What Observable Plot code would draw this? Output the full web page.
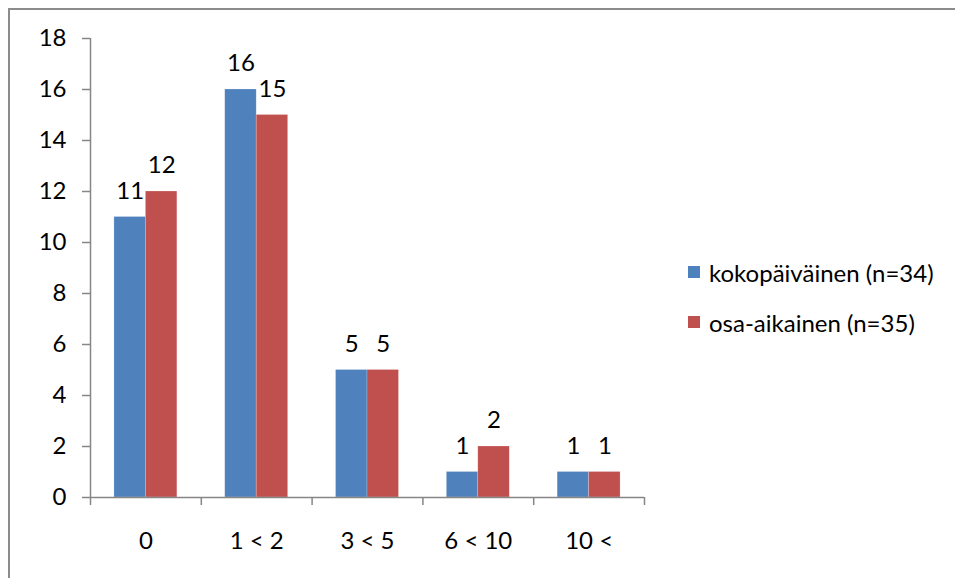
<!DOCTYPE html>
<html>
<head>
<meta charset="utf-8">
<script src="https://cdn.jsdelivr.net/npm/d3@7"></script>
<script src="https://cdn.jsdelivr.net/npm/@observablehq/plot@0.6"></script>
<style>
  html, body { margin: 0; padding: 0; background: #fff; }
  #wrap { position: relative; width: 955px; height: 578px; overflow: hidden; font-family: Lato, "Open Sans", sans-serif; }
  #frame { position: absolute; left: 8px; top: 8px; width: 1000px; height: 1000px; border-left: 2px solid #8c8c8c; border-top: 2px solid #8c8c8c; box-sizing: border-box; }
  #legend { position: absolute; left: 688px; top: 254px; font-size: 24px; color: #000; }
  .item { display: flex; align-items: center; height: 36px; margin-bottom: 14px; }
  .sw { width: 12px; height: 12px; margin-right: 9px; }
</style>
</head>
<body>
<div id="wrap">
  <div id="frame"></div>
  <div id="chart"></div>
  <div id="legend"></div>
</div>
<script>
// Work-time classes and respondent counts per group
const categories = ["0", "1 < 2", "3 < 5", "6 < 10", "10 <"];
const fullTime = [11, 16, 5, 1, 1];   // kokopäiväinen (n=34)
const partTime = [12, 15, 5, 2, 1];   // osa-aikainen (n=35)
const seriesNames = ["kokopäiväinen (n=34)", "osa-aikainen (n=35)"];
const seriesColors = ["#4F81BD", "#C0504D"];
const yTicks = [0, 2, 4, 6, 8, 10, 12, 14, 16, 18];

// Each bar takes this fraction of a category slot; the two series sit side by side
const barW = 0.284;

const rows = [];
categories.forEach((c, i) => {
  rows.push({i, series: seriesNames[0], value: fullTime[i], x1: i - barW, x2: i});
  rows.push({i, series: seriesNames[1], value: partTime[i], x1: i, x2: i + barW});
});

const boundaries = d3.range(categories.length + 1).map(k => k - 0.5);
const axisGray = "#868686";

const chart = Plot.plot({
  width: 955,
  height: 578,
  marginLeft: 90,
  marginRight: 311,
  marginTop: 38,
  marginBottom: 81,
  style: {fontFamily: "Lato, 'Open Sans', sans-serif", fontSize: "24px", color: "#000", background: "transparent"},
  x: {domain: [-0.5, categories.length - 0.5]},
  y: {domain: [0, 18]},
  color: {domain: seriesNames, range: seriesColors},
  marks: [
    Plot.rectY(rows, {x1: "x1", x2: "x2", y1: 0, y2: "value", fill: "series", stroke: "#ffffff", strokeOpacity: 0.35, strokeWidth: 0.6}),
    Plot.text(rows, {x: d => (d.x1 + d.x2) / 2, y: "value", text: d => String(d.value), dy: -26, fill: "#000", fontSize: 24}),
    Plot.ruleY([0], {x1: -0.5, x2: categories.length - 0.5, stroke: axisGray, strokeWidth: 1.5}),
    Plot.ruleX([-0.5], {y1: 0, y2: 18, stroke: axisGray, strokeWidth: 1.5}),
    Plot.axisY({ticks: yTicks, tickSize: 8, tickPadding: 16, stroke: axisGray, strokeWidth: 1.5, label: null, fill: "#000"}),
    Plot.axisX({ticks: boundaries, tickSize: 8, tickFormat: () => "", stroke: axisGray, strokeWidth: 1.5, label: null}),
    Plot.axisX({ticks: d3.range(categories.length), tickSize: 0, tickPadding: 34, tickFormat: i => categories[i], label: null, fill: "#000"})
  ]
});
document.getElementById("chart").appendChild(chart);

const legend = document.getElementById("legend");
seriesNames.forEach((name, k) => {
  const item = document.createElement("div");
  item.className = "item";
  const sw = document.createElement("div");
  sw.className = "sw";
  sw.style.background = seriesColors[k];
  const label = document.createElement("span");
  label.textContent = name;
  item.appendChild(sw);
  item.appendChild(label);
  legend.appendChild(item);
});
</script>
</body>
</html>
